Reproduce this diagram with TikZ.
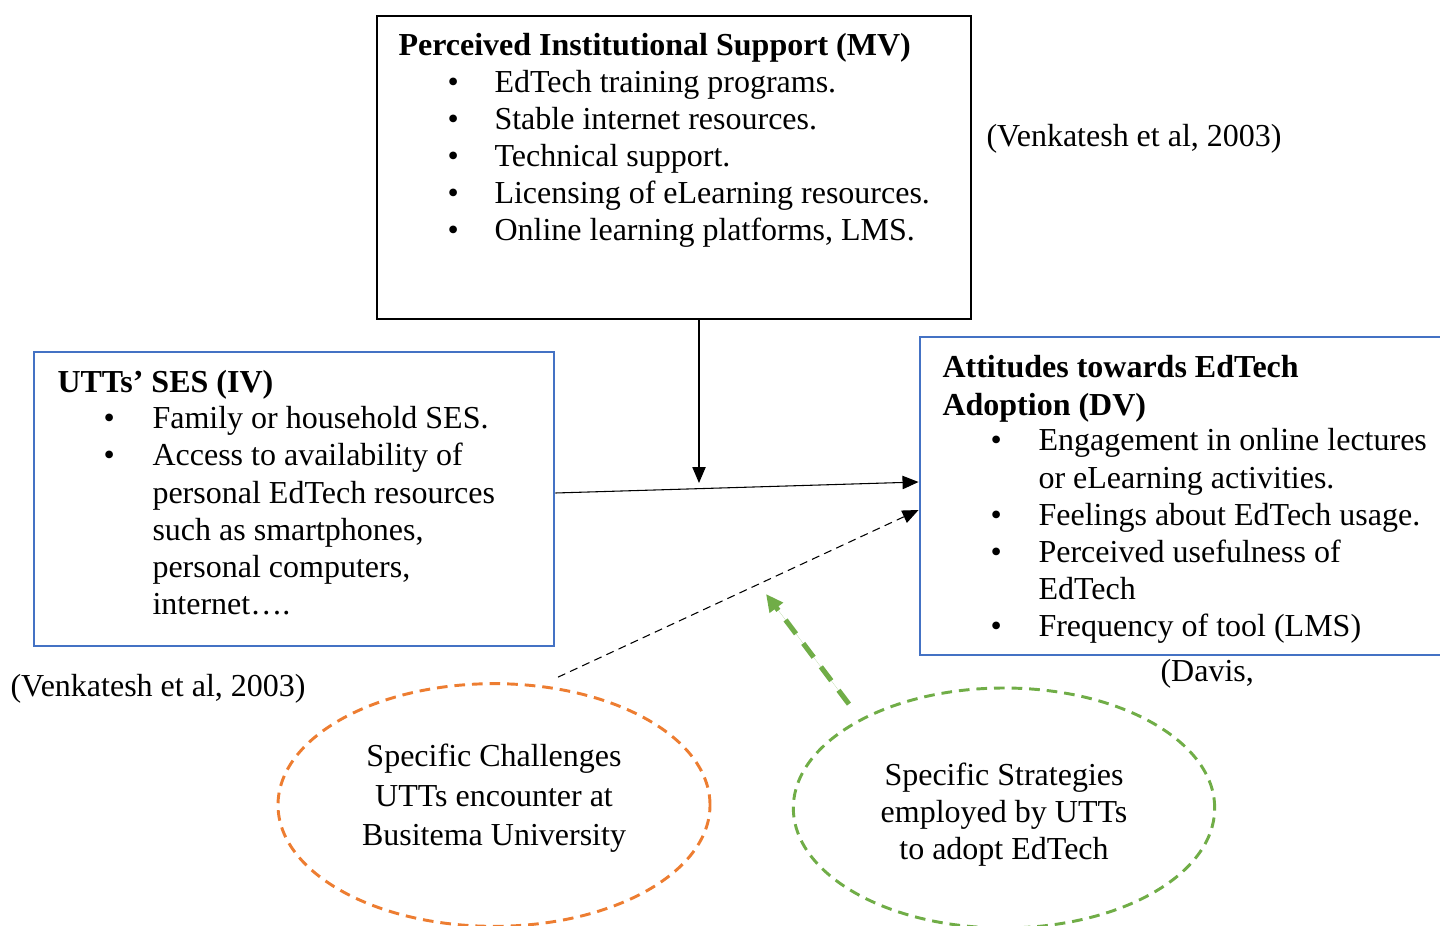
\documentclass[tikz,border=0pt]{standalone}
\usepackage{fontspec}
\setmainfont{Liberation Serif}
\usetikzlibrary{arrows.meta,shapes.geometric,fit}
\definecolor{boxblue}{RGB}{68,114,196}
\definecolor{dashorange}{RGB}{237,125,49}
\definecolor{dashgreen}{RGB}{112,173,71}
\newcommand{\fs}{\fontsize{12}{13.9}\selectfont}

\tikzset{
  txt/.style={font=\fs, inner sep=0pt, anchor=base west},
  ttl/.style={txt, font=\fs\bfseries},
  framebox/.style={draw, line width=0.75pt, inner sep=0pt},
  bluebox/.style={draw=boxblue, line width=1.1pt, inner sep=0pt},
  blob/.style={ellipse, draw, dash pattern=on 4pt off 2.6pt, line width=1.1pt, minimum width=162pt, minimum height=91pt},
  tip/.style={-{Triangle[length=6pt,width=5pt]}}
}

\begin{document}
\begin{tikzpicture}[x=0.375pt, y=-0.375pt]
	\clip (0,0) rectangle (1440,926);
	% boxes
	\node (mv) [framebox, fit={(377,16) (971,319)}] {};
	\node (ses) [bluebox, fit={(34,352) (554,646)}] {};
	\node (att) [bluebox, fit={(920,337) (1470,655)}] {};
	% moderator
	\node (mvttl) [ttl] at (398,56) {Perceived Institutional Support (MV)};
	\foreach \t [count=\i] in {EdTech training programs., Stable internet resources., Technical support., Licensing of eLearning resources., {Online learning platforms, LMS.}}{
		\node (mvb\i) [txt] at (447,56+37*\i) {\textbullet};
		\node (mv\i) [txt] at (494,56+37*\i) {\t};
	}
	% independent variable
	\node (sesttl) [ttl] at (57,393) {UTTs’ SES (IV)};
	\foreach \i in {1,2}
		\node (sesb\i) [txt] at (103,392+37*\i) {\textbullet};
	\foreach \t [count=\i] in {Family or household SES., Access to availability of, personal EdTech resources, {such as smartphones,}, {personal computers,}, internet….}
		\node (ses\i) [txt] at (152,392+37*\i) {\t};
	% dependent variable
	\node (attttl) [ttl] at (942,378) {Attitudes towards EdTech};
	\node (attttlb) [ttl] at (942,415) {Adoption (DV)};
	\foreach \i in {1,3,4,6}
		\node (attb\i) [txt] at (990,414+37*\i) {\textbullet};
	\foreach \t [count=\i] in {Engagement in online lectures, or eLearning activities., Feelings about EdTech usage., Perceived usefulness of, EdTech, Frequency of tool (LMS)}
		\node (att\i) [txt] at (1038,414+37*\i) {\t};
	% citations
	\node (citea) [txt] at (986,147) {(Venkatesh et al, 2003)};
	\node (citeb) [txt] at (10,696) {(Venkatesh et al, 2003)};
	\node (citec) [txt] at (1160,681) {(Davis,};
	% ellipses
	\node (chal) [blob, draw=dashorange] at (494,805) {};
	\node (strat) [blob, draw=dashgreen, minimum width=158pt, minimum height=90pt] at (1004,808) {};
	\foreach \t [count=\i] in {Specific Challenges, UTTs encounter at, Busitema University}
		\node (chal\i) [txt, anchor=base] at (494,727+39.5*\i) {\t};
	\foreach \t [count=\i] in {Specific Strategies, employed by UTTs, to adopt EdTech}
		\node (strat\i) [txt, anchor=base] at (1004,748+37*\i) {\t};
	% connectors
	\coordinate (modtip) at (699,483);
	\coordinate (strattip) at (766,594);
	\draw[tip] (mv.south -| modtip) -- (modtip);
	\draw[tip] ([yshift=2.25pt]ses.east) -- ([yshift=5.25pt]att.west);
	\draw[tip, dash pattern=on 3pt off 2pt, line width=0.4pt] ([xshift=24pt,yshift=1.9pt]chal.north) -- ([yshift=-5.25pt]att.west);
	\draw[-{Triangle[length=6.5pt,width=6pt]}, draw=dashgreen, fill=dashgreen, line width=1.9pt, dash pattern=on 6.5pt off 4.5pt] ([xshift=-1.9pt,yshift=6.75pt]strat.north west) -- (strattip);
\end{tikzpicture}
\end{document}
